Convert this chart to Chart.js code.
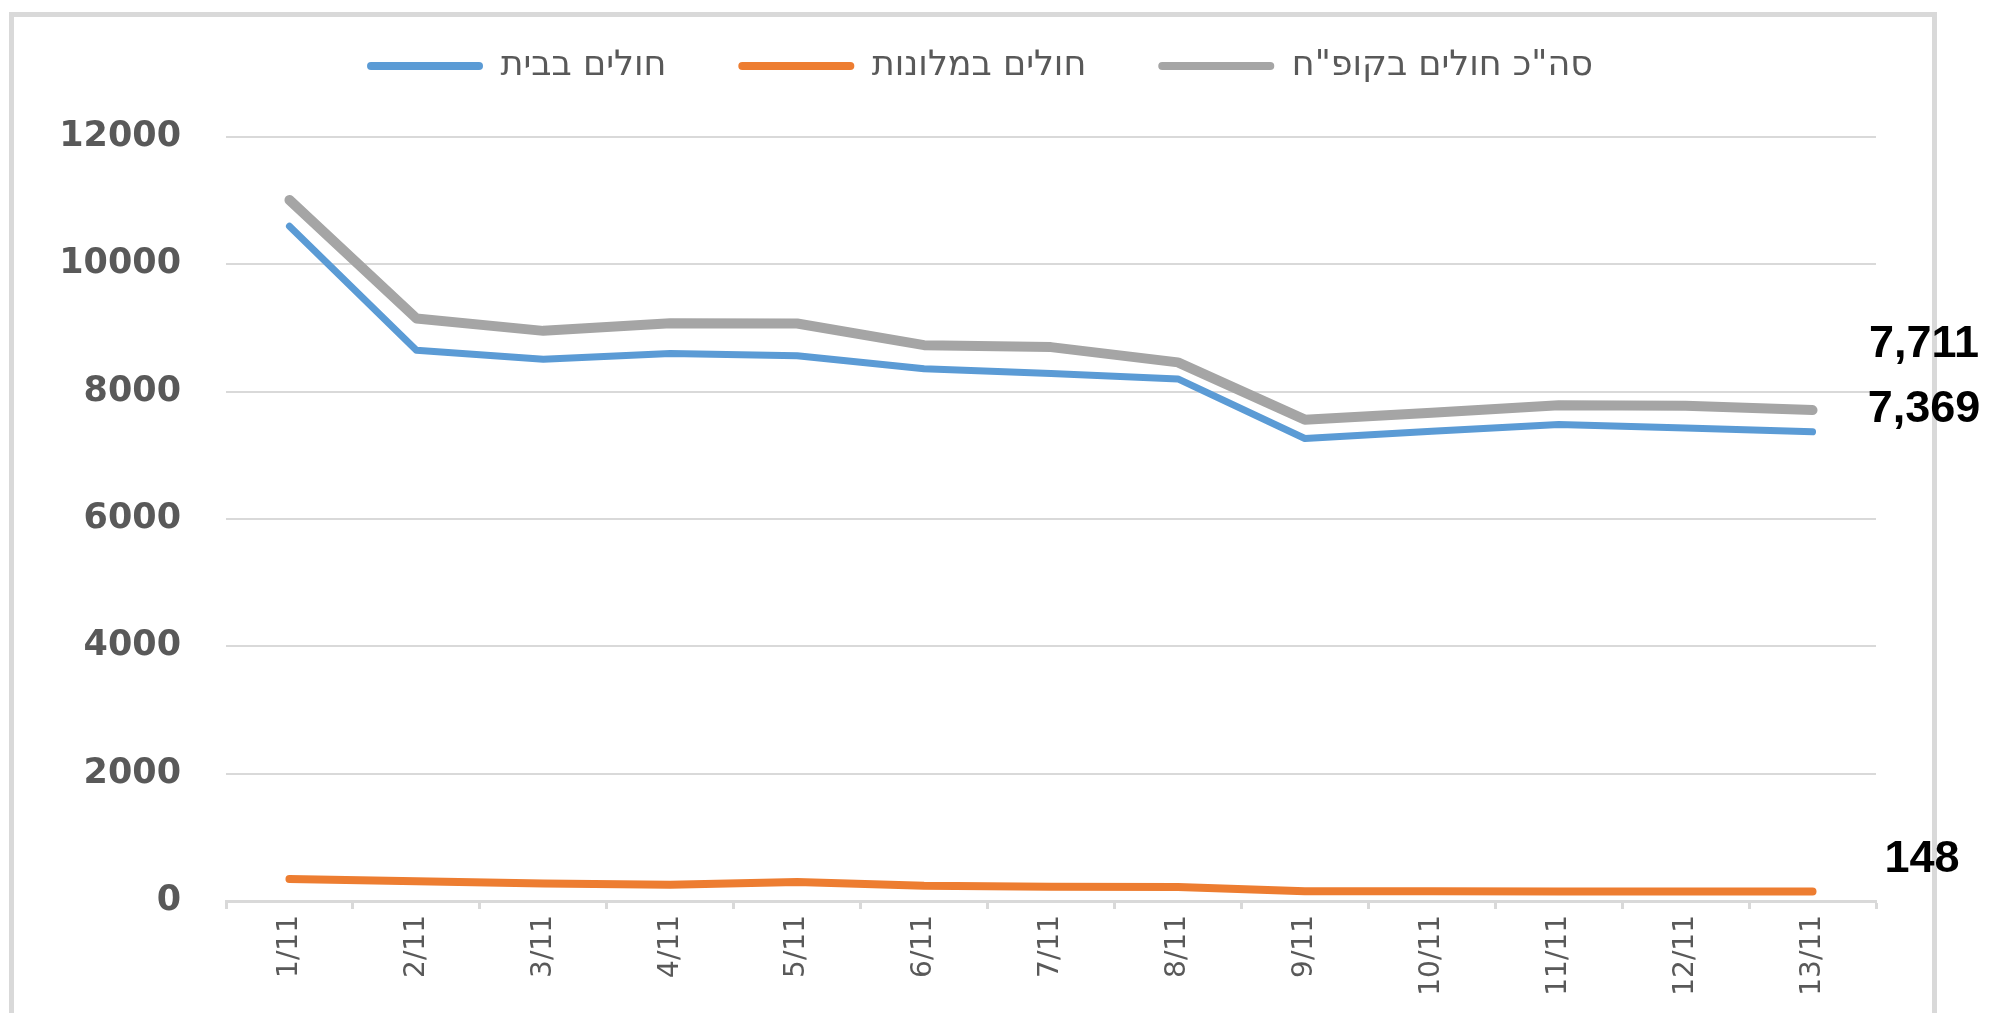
<!DOCTYPE html>
<html>
<head>
<meta charset="utf-8">
<script src="https://cdn.jsdelivr.net/npm/chart.js@4/dist/chart.umd.min.js"></script>
<style>
  html, body { margin: 0; padding: 0; background: #ffffff; }
  #wrap { position: relative; width: 1989px; height: 1013px; overflow: hidden; }
  #frame { position: absolute; left: 9px; top: 12px; width: 1918px; height: 1100px;
           border: 5px solid #d9d9d9; border-bottom: none; z-index: 0; }
  #c { position: absolute; left: 0; top: 0; z-index: 1; }
</style>
</head>
<body>
<div id="wrap">
  <div id="frame"></div>
  <canvas id="c" width="1989" height="1013"></canvas>
</div>
<script>
const categories = ['1/11','2/11','3/11','4/11','5/11','6/11','7/11','8/11','9/11','10/11','11/11','12/11','13/11'];
const seriesNames = ['חולים בבית', 'חולים במלונות', 'סה"כ חולים בקופ"ח'];
const sickAtHome   = [10600, 8650, 8510, 8600, 8565, 8360, 8285, 8200, 7265, 7380, 7485, 7430, 7369];
const sickInHotels = [345, 310, 275, 255, 300, 240, 225, 220, 155, 152, 150, 150, 148];
const sickTotal    = [11010, 9150, 8955, 9075, 9070, 8730, 8700, 8460, 7560, 7670, 7785, 7780, 7711];
const yTicks = [0, 2000, 4000, 6000, 8000, 10000, 12000];

const colors = ['#5B9BD5', '#ED7D31', '#A5A5A5'];
const widths = [7, 8, 10];

// end-value labels (text placement only)
const endLabelPos = [ {x: 1924, y: 410}, {x: 1922, y: 860}, {x: 1924, y: 345} ];

const endLabels = {
  id: 'endLabels',
  afterDraw(chart) {
    const ctx = chart.ctx;
    ctx.save();
    ctx.font = 'bold 45px "Liberation Sans", Arial, sans-serif';
    ctx.fillStyle = '#000000';
    ctx.textAlign = 'center';
    ctx.textBaseline = 'middle';
    chart.data.datasets.forEach((ds, i) => {
      const v = ds.data[ds.data.length - 1];
      ctx.fillText(v.toLocaleString('en-US'), endLabelPos[i].x, endLabelPos[i].y);
    });
    ctx.restore();
  }
};

const mk = (i, data) => ({
  label: seriesNames[i],
  data: data,
  xAxisID: 'x',
  yAxisID: 'y',
  borderColor: colors[i],
  backgroundColor: colors[i],
  borderWidth: widths[i],
  pointRadius: 0,
  pointHoverRadius: 0,
  tension: 0,
  fill: false,
  borderCapStyle: 'round',
  borderJoinStyle: 'round'
});

new Chart(document.getElementById('c'), {
  type: 'line',
  data: {
    labels: categories,
    datasets: [mk(0, sickAtHome), mk(1, sickInHotels), mk(2, sickTotal)]
  },
  options: {
    responsive: false,
    animation: false,
    layout: { padding: { top: -23.5, right: 29, bottom: 0, left: 0 } },
    plugins: {
      tooltip: { enabled: false },
      legend: {
        position: 'top',
        align: 'center',
        labels: {
          font: { family: '"DejaVu Sans", sans-serif', size: 35 },
          color: '#595959',
          boxWidth: 116,
          boxHeight: 8,
          padding: 72,
          useBorderRadius: true,
          borderRadius: 4,
          generateLabels(chart) {
            const items = Chart.defaults.plugins.legend.labels.generateLabels(chart);
            items.forEach(it => { it.lineWidth = 0; it.borderRadius = 4; });
            return items;
          }
        }
      }
    },
    scales: {
      x: {
        type: 'category',
        offset: true,
        afterFit(scale) { scale.height = 112; },
        grid: { offset: true, drawOnChartArea: false, drawTicks: true, tickLength: 8,
                tickColor: '#d9d9d9', tickWidth: 3, color: '#d9d9d9' },
        border: { display: true, color: '#d9d9d9', width: 3 },
        ticks: {
          minRotation: 90, maxRotation: 90, autoSkip: false, padding: 6,
          color: '#595959',
          font: { family: '"DejaVu Sans", sans-serif', size: 28 }
        }
      },
      y: {
        min: 0, max: 12000,
        afterFit(scale) { scale.width = 226; },
        afterBuildTicks(scale) { scale.ticks = yTicks.map(v => ({ value: v })); },
        grid: { color: '#d9d9d9', lineWidth: 2, drawTicks: false },
        border: { display: false },
        ticks: {
          padding: 45,
          color: '#595959',
          font: { family: '"DejaVu Sans", sans-serif', size: 35, weight: 'bold' },
          callback: (v) => String(v)
        }
      },
      gap: {
        type: 'category',
        position: 'top',
        labels: categories,
        display: true,
        afterFit(scale) { scale.height = 43.5; },
        grid: { display: false, drawTicks: false },
        border: { display: false },
        ticks: { display: false }
      },
      side: {
        type: 'linear',
        position: 'right',
        min: 0, max: 12000,
        display: true,
        afterFit(scale) { scale.width = 84; },
        grid: { display: false, drawTicks: false },
        border: { display: false },
        ticks: { display: false }
      }
    }
  },
  plugins: [endLabels]
});
</script>
</body>
</html>
